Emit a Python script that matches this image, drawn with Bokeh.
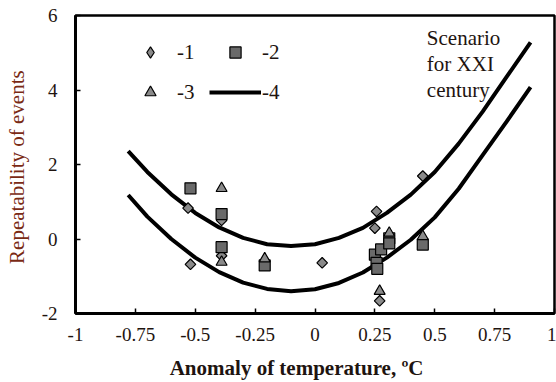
from bokeh.plotting import figure
from bokeh.models import FixedTicker, Legend, LegendItem, Label, Range1d
from bokeh.embed import file_html
from bokeh.resources import INLINE

# Axis ticks and their labels
x_ticks = [-1, -0.75, -0.5, -0.25, 0, 0.25, 0.5, 0.75, 1]
x_tick_labels = ["-1", "-0.75", "-0.5", "-0.25", "0", "0.25", "0.5", "0.75", "1"]
y_ticks = [-2, 0, 2, 4, 6]
y_tick_labels = ["-2", "0", "2", "4", "6"]

# Series 1 (diamonds)
s1_x = [-0.53, -0.52, -0.39, -0.39, 0.03, 0.257, 0.25, 0.27, 0.45]
s1_y = [0.83, -0.68, 0.50, -0.45, -0.64, 0.74, 0.29, -1.66, 1.69]

# Series 2 (squares)
s2_x = [-0.52, -0.39, -0.39, -0.21, 0.25, 0.276, 0.257, 0.26, 0.31, 0.31, 0.45]
s2_y = [1.36, 0.67, -0.22, -0.71, -0.42, -0.28, -0.64, -0.80, 0.02, -0.12, -0.15]

# Series 3 (triangles)
s3_x = [-0.39, -0.39, -0.21, 0.31, 0.45, 0.27]
s3_y = [1.36, -0.62, -0.53, 0.16, 0.07, -1.40]

# Series 4: the two trend curves for the XXI century scenario
curve_x = [-0.78, -0.7, -0.6, -0.5, -0.4, -0.3, -0.2, -0.1, 0.0, 0.1, 0.2, 0.3,
           0.4, 0.5, 0.6, 0.7, 0.8, 0.9]
upper_y = [2.36, 1.80, 1.20, 0.70, 0.31, 0.03, -0.14, -0.19, -0.14, 0.03, 0.30,
           0.70, 1.19, 1.80, 2.56, 3.42, 4.35, 5.28]
lower_y = [1.18, 0.60, 0.00, -0.50, -0.89, -1.17, -1.34, -1.40, -1.35, -1.18,
           -0.90, -0.50, -0.02, 0.58, 1.35, 2.25, 3.15, 4.08]

SERIF = "Liberation Serif"
TEXT = "#1e1410"

p = figure(width=556, height=382, output_backend="svg", toolbar_location=None,
           x_range=Range1d(-1, 1), y_range=Range1d(-2, 6),
           min_border_left=75, min_border_right=2, min_border_top=15,
           min_border_bottom=68)
p.background_fill_color = "white"
p.border_fill_color = "white"
p.xgrid.visible = False
p.ygrid.visible = False
p.outline_line_color = "black"
p.outline_line_width = 2.5

for ax in (p.xaxis[0], p.yaxis[0]):
    ax.axis_line_width = 3
    ax.axis_line_color = "black"
    ax.major_tick_in = 5
    ax.major_tick_out = 0
    ax.major_tick_line_width = 1.5
    ax.minor_tick_line_color = None
    ax.major_label_text_font = SERIF
    ax.major_label_text_font_size = "19px"
    ax.major_label_text_color = TEXT

p.xaxis.ticker = FixedTicker(ticks=x_ticks)
p.xaxis.major_label_overrides = dict(zip(x_ticks, x_tick_labels))
p.xaxis.major_label_standoff = 14
# trailing no-break spaces pull the centred title a little to the left
p.xaxis.axis_label = "Anomaly of  temperature, ºC" + "\u00a0" * 6
p.xaxis.axis_label_text_font = SERIF
p.xaxis.axis_label_text_font_style = "bold"
p.xaxis.axis_label_text_font_size = "21px"
p.xaxis.axis_label_text_color = TEXT
p.xaxis.axis_label_standoff = 12

p.yaxis.ticker = FixedTicker(ticks=y_ticks)
p.yaxis.major_label_overrides = dict(zip(y_ticks, y_tick_labels))
p.yaxis.major_label_standoff = 18
p.yaxis.axis_label = "Repeatability of  events"
p.yaxis.axis_label_text_font = SERIF
p.yaxis.axis_label_text_font_style = "normal"
p.yaxis.axis_label_text_font_size = "21px"
p.yaxis.axis_label_text_color = "#7a2a14"
p.yaxis.axis_label_standoff = 10

# Trend curves
r_up = p.line(curve_x, upper_y, line_color="black", line_width=4)
p.line(curve_x, lower_y, line_color="black", line_width=4)

# Observed points
r1 = p.scatter(s1_x, s1_y, marker="square", angle=0.785398, size=7.5,
               fill_color="#8a8a8a", line_color="black", line_width=1.2)
r2 = p.scatter(s2_x, s2_y, marker="square", size=11,
               fill_color="#6a6a6a", line_color="black", line_width=1.2)
r3 = p.scatter(s3_x, s3_y, marker="triangle", size=11,
               fill_color="#8a8a8a", line_color="black", line_width=1.2)

# Legend swatch for series 1 (the legend does not rotate markers)
r1_key = p.scatter(s1_x[:1], s1_y[:1], marker="diamond", size=12,
                   fill_color="#8a8a8a", line_color="black", line_width=1.2,
                   visible=False)

legend = Legend(items=[LegendItem(label="-1", renderers=[r1_key]),
                       LegendItem(label="-3", renderers=[r3]),
                       LegendItem(label="-2", renderers=[r2]),
                       LegendItem(label="-4", renderers=[r_up])],
                ncols=2, location=(49, 207), margin=0, padding=0,
                glyph_width=52, glyph_height=28, label_standoff=1, spacing=12,
                border_line_color=None, background_fill_alpha=0,
                inactive_fill_alpha=0,
                label_text_font=SERIF, label_text_font_size="21px",
                label_text_color=TEXT)
p.add_layout(legend, "center")

p.add_layout(Label(x=0.467, y=5.73, text="Scenario\nfor XXI\ncentury",
                   text_font=SERIF, text_font_size="21px", text_color=TEXT,
                   text_baseline="top", text_align="left",
                   text_line_height=1.1))

open("out.html", "w").write(file_html(p, INLINE))
